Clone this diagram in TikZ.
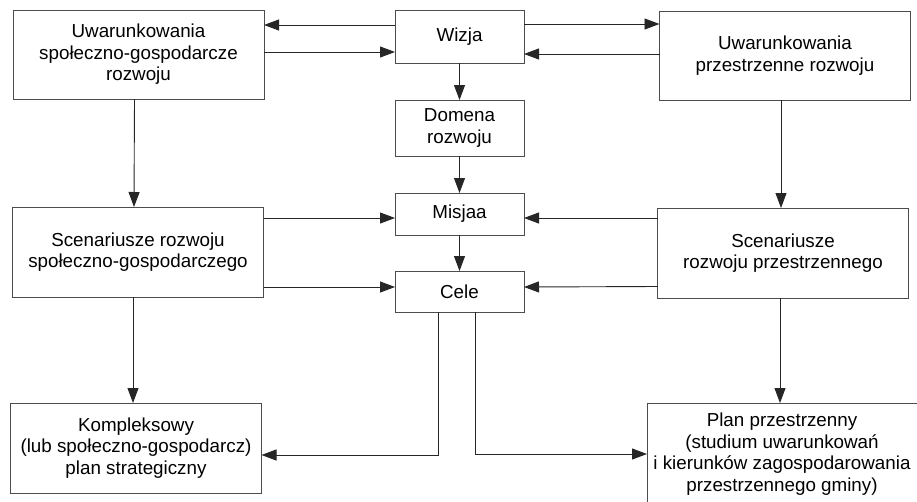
\documentclass[tikz,border=0pt]{standalone}
\usepackage{fontspec}
\setmainfont{Liberation Sans}
\usetikzlibrary{arrows.meta,positioning}

\begin{document}
\begin{tikzpicture}[
    x=1pt,y=-1pt,
    node distance=37pt,
    every node/.style={align=center,font=\fontsize{18.8}{21.5}\selectfont},
    block/.style={rectangle,draw=black!70,line width=0.9pt,inner sep=0pt,outer sep=0pt},
    wide/.style={block,minimum width=251pt,minimum height=90pt},
    small/.style={block,minimum width=129pt},
    arrow/.style={-{Triangle[length=15pt,width=11pt]},draw=black!85,line width=0.9pt}
]
\useasboundingbox (0,0) rectangle (917,501);

% =====================
% CENTRE COLUMN
% =====================
\node[small,minimum height=53pt] (wizja) at (459.5,36.5) {Wizja};
\node[small,minimum height=56pt,below=of wizja] (domena) {Domena\\rozwoju};
\node[small,minimum height=42pt,below=of domena] (misja) {Misjaa};
\node[small,minimum height=41pt,below=36pt of misja] (cele) {Cele};

% =====================
% LEFT SIDE
% =====================
\node[wide,minimum height=89pt] (usg) at (138.5,54.5) {
Uwarunkowania\\
społeczno-gospodarcze\\
rozwoju
};
\node[wide] (ssg) at (138,252) {
Scenariusze rozwoju\\
społeczno-gospodarczego
};
\node[wide] (komp) at (136,448) {
Kompleksowy\\
(lub społeczno-gospodarcz)\\
plan strategiczny
};

% =====================
% RIGHT SIDE
% =====================
\node[wide,minimum height=89pt] (up) at (785,55.5) {
Uwarunkowania\\
przestrzenne rozwoju
};
\node[wide] (sp) at (783,253) {
Scenariusze\\
rozwoju przestrzennego
};
\node[block,minimum width=270pt,minimum height=102pt] (plan) at (782,454) {
Plan przestrzenny\\
(studium uwarunkowań\\
i kierunków zagospodarowania\\
przestrzennego gminy)
};

% Wizja connections
\draw[arrow] ([yshift=11.5pt]wizja.west) -- ([yshift=29.5pt]usg.east);
\draw[arrow] ([yshift=2.5pt]usg.east) -- ([yshift=-15.5pt]wizja.west);
\draw[arrow] ([yshift=12.5pt]wizja.east) -- ([yshift=31.5pt]up.west);
\draw[arrow] ([yshift=1.5pt]up.west) -- ([yshift=-17.5pt]wizja.east);

% Centre column arrows
\draw[arrow] (wizja) -- (domena);
\draw[arrow] (domena) -- (misja);
\draw[arrow] (misja) -- (cele);

% Side column arrows
\draw[arrow] ([xshift=-4pt]usg.south) -- ([xshift=-4pt]ssg.north);
\draw[arrow] ([xshift=-5pt]ssg.south) -- ([xshift=-3pt]komp.north);
\draw[arrow] ([xshift=-4pt]up.south) -- ([xshift=-2pt]sp.north);
\draw[arrow] ([xshift=-3pt]sp.south) -- ([xshift=-2pt]plan.north);

% Scenarios into Misja and Cele
\draw[arrow] ([yshift=34pt]ssg.east) -- ([yshift=-4pt]misja.west);
\draw[arrow] ([yshift=-35pt]ssg.east) -- ([yshift=4.5pt]cele.west);
\draw[arrow] ([yshift=35pt]sp.west) -- ([yshift=-4pt]misja.east);
\draw[arrow] ([yshift=-33.5pt]sp.west) -- ([yshift=4.5pt]cele.east);

% Cele down to plans
\draw[arrow] ([xshift=-21pt]cele.south) |- ([yshift=-7pt]komp.east);
\draw[arrow] ([xshift=16pt]cele.south) |- (plan.west);

\end{tikzpicture}
\end{document}
